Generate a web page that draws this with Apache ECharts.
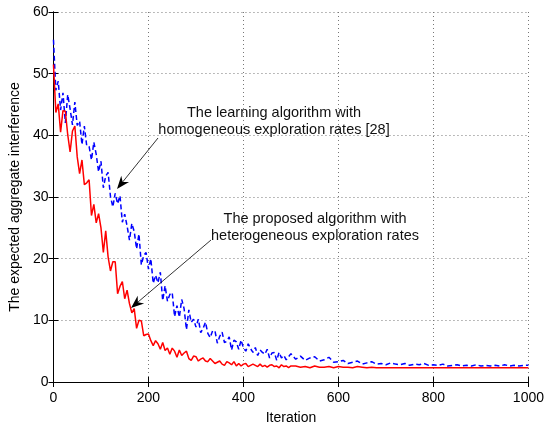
<!DOCTYPE html>
<html>
<head>
<meta charset="utf-8">
<script src="https://cdn.jsdelivr.net/npm/echarts@6/dist/echarts.min.js"></script>
<style>
  html, body { margin: 0; padding: 0; background: #fff; }
  #chart { width: 547px; height: 430px; }
</style>
</head>
<body>
<div id="chart"></div>
<script>
// iterations: every 5 up to 500, then every 10
var iterFine = [0,5,10,15,20,25,30,35,40,45,50,55,60,65,70,75,80,85,90,95,
  100,105,110,115,120,125,130,135,140,145,150,155,160,165,170,175,180,185,190,195,
  200,205,210,215,220,225,230,235,240,245,250,255,260,265,270,275,280,285,290,295,
  300,305,310,315,320,325,330,335,340,345,350,355,360,365,370,375,380,385,390,395,
  400,405,410,415,420,425,430,435,440,445,450,455,460,465,470,475,480,485,490,495,500];
var iterCoarse = [510,520,530,540,550,560,570,580,590,600,
  610,620,630,640,650,660,670,680,690,700,
  710,720,730,740,750,760,770,780,790,800,
  810,820,830,840,850,860,870,880,890,900,
  910,920,930,940,950,960,970,980,990,1000];
var iterations = iterFine.concat(iterCoarse);

// proposed algorithm (heterogeneous exploration rates)
var proposed = [51.5,43.7,45.1,40.5,44,43.9,40.1,37.3,40.7,41.5,
  36.5,33.8,36,32,32.3,32.8,27,28.8,25.8,27.3,
  25,21,24.5,20.3,18,19.5,19.5,14.3,15.5,16.3,
  13.5,14.9,12.7,11.2,11.9,8.7,10,9.9,7.5,7.7,
  7.8,6.7,5.9,6.7,6.2,5.3,6.4,5.1,5.5,4.5,
  5.5,5,4,5.2,4.3,4.7,5,3.8,3.5,4.2,
  4.1,3.4,3.7,3.9,3.4,3.3,3.8,3.4,3,3.2,
  3.4,2.9,2.7,3.3,3.1,2.8,3.3,2.6,3,2.6,
  2.9,3,2.5,2.7,2.9,2.7,2.5,2.9,2.5,2.7,
  2.4,2.7,2.8,2.5,2.6,2.3,2.8,2.5,2.6,2.35,2.6,
  2.6,2.4,2.5,2.3,2.6,2.4,2.4,2.5,2.3,2.5,
  2.4,2.4,2.3,2.5,2.4,2.3,2.4,2.3,2.3,2.3,
  2.3,2.3,2.3,2.3,2.3,2.3,2.3,2.3,2.3,2.3,
  2.3,2.3,2.3,2.3,2.3,2.3,2.3,2.3,2.3,2.3,
  2.3,2.3,2.3,2.3,2.3,2.3,2.3,2.3,2.3,2.3];

// learning algorithm with homogeneous exploration rates [28]
var homogeneous = [55.5,47.3,48.8,44.1,46.9,42,46.6,44.3,41.7,45.4,
  41.6,42.3,38.5,41.5,38.3,38.2,36,38.9,36.9,34.1,
  35.8,31.5,33.4,34,30.1,28.4,30.6,28.9,30.2,25.9,
  27.2,25.3,23,25.7,24.4,21.6,24,19,20.5,21,
  18.3,20,16,17.3,16.1,17.8,13.2,15.6,13.1,14.2,
  14.5,10.6,12.4,10.5,13.4,11.9,8.5,11.7,9.7,10.2,
  8.9,10.2,8,8.7,9.7,7.9,7.2,8.3,8.3,6.3,
  7.4,8.1,6.4,6.6,7.3,5.2,6.8,6.5,5.3,6.8,
  5.5,5,6.2,5.4,4.8,5.6,4.3,5.2,4.8,4.5,
  5.3,3.9,4.7,4.8,3.5,4.8,3.9,4.3,3.6,4.1,4.6,
  3.7,4.2,3.5,3.9,4.1,3.4,3.6,4,3.2,3.3,
  3.5,3,3.2,3.4,2.9,3.1,3.3,2.9,3,2.8,
  3.1,2.9,2.8,3,2.7,2.9,2.8,3,2.7,2.8,
  2.7,2.9,2.6,2.7,2.8,2.6,2.7,2.6,2.8,2.6,
  2.7,2.6,2.7,2.6,2.8,2.6,2.7,2.6,2.7,2.7];

var FONT = '"Liberation Sans", Arial, Helvetica, sans-serif';

function pairs(xs, ys) {
  return xs.map(function (x, i) { return [x, ys[i]]; });
}

// arrow with a notched head, from (x1,y1) to tip (x2,y2), pixel coords
function arrow(x1, y1, x2, y2) {
  var dx = x2 - x1, dy = y2 - y1;
  var len = Math.sqrt(dx * dx + dy * dy);
  var ux = dx / len, uy = dy / len;
  var nx = -uy, ny = ux;
  var hl = 13, hw = 5, notch = 9;
  var bx = x2 - hl * ux, by = y2 - hl * uy;
  return [
    { type: 'line', silent: true, z: 10,
      shape: { x1: x1, y1: y1, x2: x2 - notch * ux, y2: y2 - notch * uy },
      style: { stroke: '#000', lineWidth: 0.8 } },
    { type: 'polygon', silent: true, z: 10,
      shape: { points: [[x2, y2], [bx + hw * nx, by + hw * ny],
        [x2 - notch * ux, y2 - notch * uy], [bx - hw * nx, by - hw * ny]] },
      style: { fill: '#000' } }
  ];
}

function label(cx, cy, txt) {
  return { type: 'text', silent: true, x: cx, y: cy, z: 10,
    style: { text: txt, font: '14.5px ' + FONT, fill: '#111',
      align: 'center', verticalAlign: 'middle', lineHeight: 17 } };
}

var chart = echarts.init(document.getElementById('chart'), null, { renderer: 'canvas' });

var axisLine = { show: true, lineStyle: { color: '#000', width: 1 } };
var tick = { show: true, inside: true, length: 5, lineStyle: { color: '#000' } };
var grid = { show: true, lineStyle: { color: '#777', type: [1, 3], width: 1 } };
function plain(v) { return String(v); }

var option = {
  animation: false,
  backgroundColor: '#fff',
  grid: { left: 53, right: 16, top: 12, bottom: 43, show: false },
  xAxis: [{
    type: 'value', min: 0, max: 1000, interval: 200,
    name: 'Iteration', nameLocation: 'middle', nameGap: 29,
    nameTextStyle: { fontFamily: FONT, fontSize: 14, color: '#000' },
    axisLine: axisLine, axisTick: tick, splitLine: grid,
    axisLabel: { fontFamily: FONT, fontSize: 14, color: '#000', margin: 9, formatter: plain }
  }, {
    type: 'value', min: 0, max: 1000, interval: 200, position: 'top',
    axisLine: axisLine, axisTick: tick, splitLine: { show: false },
    axisLabel: { show: false }
  }],
  yAxis: [{
    type: 'value', min: 0, max: 60, interval: 10,
    name: 'The expected aggregate interference', nameLocation: 'middle', nameGap: 21,
    nameTextStyle: { fontFamily: FONT, fontSize: 14, color: '#000' },
    axisLine: axisLine, axisTick: tick, splitLine: grid,
    axisLabel: { fontFamily: FONT, fontSize: 14, color: '#000', margin: 5, formatter: plain }
  }, {
    type: 'value', min: 0, max: 60, interval: 10, position: 'right',
    axisLine: axisLine, axisTick: tick, splitLine: { show: false },
    axisLabel: { show: false }
  }],
  series: [{
    name: 'homogeneous', type: 'line', showSymbol: false,
    data: pairs(iterations, homogeneous),
    lineStyle: { color: '#0000ff', width: 1.5, type: [5, 3] },
    itemStyle: { color: '#0000ff' }
  }, {
    name: 'proposed', type: 'line', showSymbol: false,
    data: pairs(iterations, proposed),
    lineStyle: { color: '#ff0000', width: 1.5 },
    itemStyle: { color: '#ff0000' }
  }],
  graphic: [
    label(274, 121, 'The learning algorithm with\nhomogeneous exploration rates [28]'),
    label(315, 227, 'The proposed algorithm with\nheterogeneous exploration rates')
  ].concat(arrow(158, 138, 117, 189)).concat(arrow(211, 240, 131, 308))
};

chart.setOption(option);
</script>
</body>
</html>
